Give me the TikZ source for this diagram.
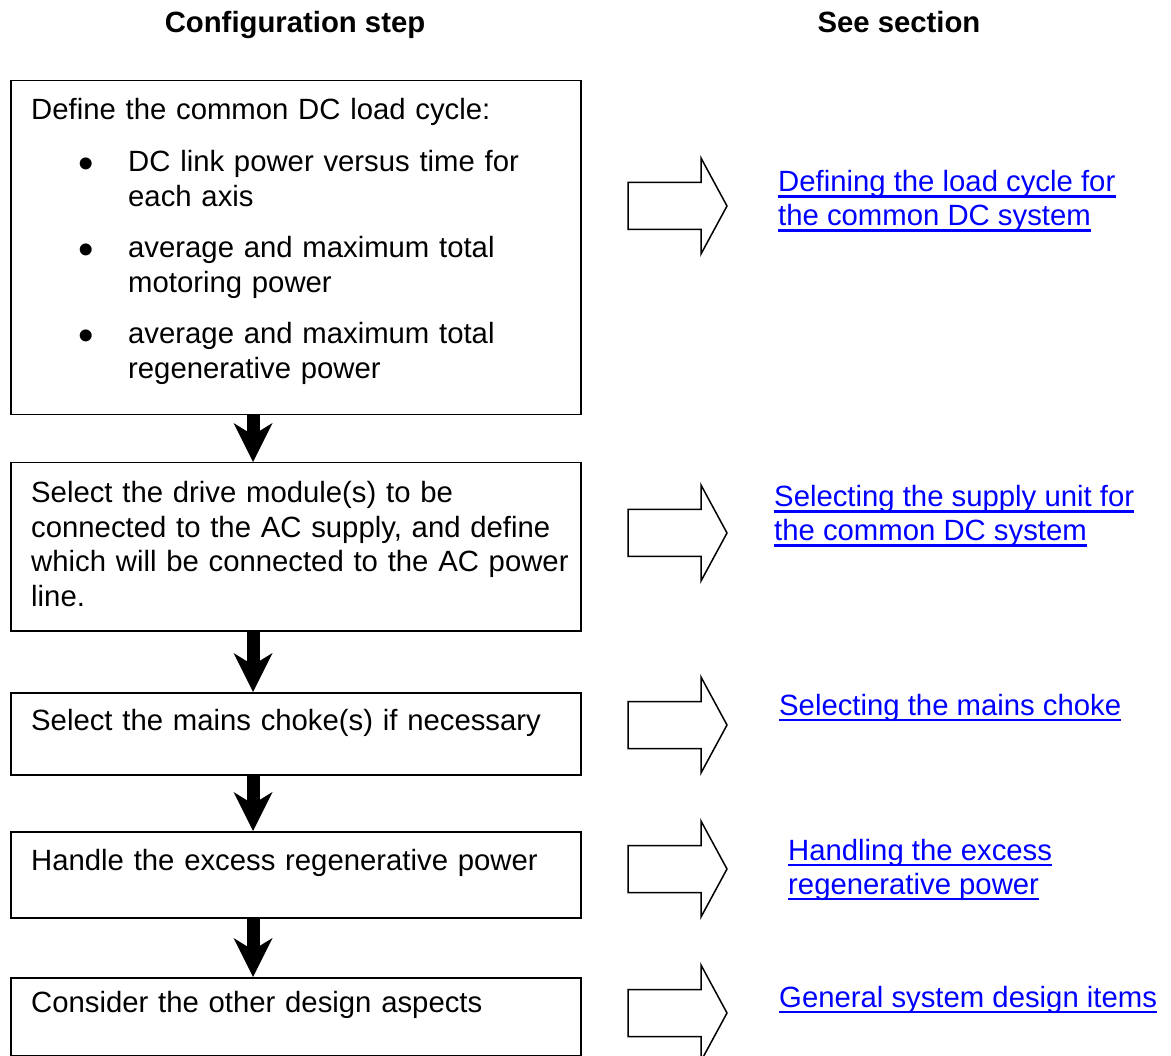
\documentclass[tikz,border=0pt]{standalone}
\usepackage{fontspec}
\setmainfont{Liberation Sans}
\usetikzlibrary{arrows.meta, positioning}
\definecolor{linkblue}{RGB}{0,0,255}

% hollow "see section" arrow, drawn from its left end
\tikzset{
  pics/goto/.style={code={
    \draw[line width=1.5pt, line join=miter]
      (0,-23.5) -- (73,-23.5) -- (73,-48) -- (99,0) -- (73,48) -- (73,23.5) -- (0,23.5) -- cycle;
  }}
}

\begin{document}
\begin{tikzpicture}[
    x=1pt, y=-1pt,
    every node/.style={font=\fontsize{29.3}{34.5}\selectfont},
    heading/.style={anchor=base, inner sep=0pt, font=\fontsize{29.3}{34.5}\selectfont\bfseries},
    stepbox/.style={draw, line width=1.5pt, anchor=north west, inner sep=0pt, minimum width=570pt},
    steptext/.style={anchor=base west, inner sep=0pt, text width=545pt, align=left},
    itemtext/.style={anchor=base west, inner sep=0pt, text width=420pt, align=left},
    bullet/.style={anchor=base, inner sep=0pt, font=\fontsize{44}{44}\selectfont},
    linkline/.style={anchor=base west, inner sep=0pt, text=linkblue},
    underline/.style={draw=linkblue, line width=2.5pt},
    flow/.style={line width=13pt, -{Stealth[length=39pt, width=39pt, inset=12pt, line width=0pt]}}
]
   \useasboundingbox (0,0) rectangle (1171,1056);

   % column headings
   \node[heading] (hstep) at (295,33) {Configuration step};
   \node[heading] (hsee) at (899,33) {See section};

   % configuration steps
   \node[stepbox, minimum height=334pt] (b1) at (10,80) {};
   \node[stepbox, minimum height=168pt] (b2) at (10,462) {};
   \node[stepbox, minimum height=82pt] (b3) at (10,692) {};
   \node[stepbox, minimum height=86pt] (b4) at (10,831) {};
   \node[stepbox, minimum height=78pt] (b5) at (10,977) {};

   \node[steptext] (t1) at (31,120) {Define the common DC load cycle:};
   \foreach \y/\txt [count=\i] in {172/{DC link power versus time for\\each axis},
                                   258/{average and maximum total\\motoring power},
                                   344/{average and maximum total\\regenerative power}} {
      \node[itemtext] (item\i) at (128,\y) {\txt};
      \node[bullet] (dot\i) at (86,\y+7) {\textbullet};
   }
   \node[steptext] (t2) at (31,503) {Select the drive module(s) to be\\connected to the AC supply, and define\\which will be connected to the AC power\\line.};
   \node[steptext] (t3) at (31,730) {Select the mains choke(s) if necessary};
   \node[steptext] (t4) at (31,870) {Handle the excess regenerative power};
   \node[steptext] (t5) at (31,1012) {Consider the other design aspects};

   % flow between the steps
   \coordinate (ax) at (253,0);
   \draw[flow] (b1.south -| ax) -- (b2.north -| ax);
   \draw[flow] (b2.south -| ax) -- (b3.north -| ax);
   \draw[flow] (b3.south -| ax) -- (b4.north -| ax);
   \draw[flow] (b4.south -| ax) -- (b5.north -| ax);

   % pointers to the sections
   \foreach \y [count=\i] in {206,533,725,869,1013}
      \pic (g\i) at (628,\y) {goto};

   % section links, one node per line
   \node[linkline] (l1a) at (778,192) {Defining the load cycle for};
   \node[linkline] (l1b) at (778,226) {the common DC system};
   \node[linkline] (l2a) at (774,507) {Selecting the supply unit for};
   \node[linkline] (l2b) at (774,541) {the common DC system};
   \node[linkline] (l3a) at (779,715) {Selecting the mains choke};
   \node[linkline] (l4a) at (788,860) {Handling the excess};
   \node[linkline] (l4b) at (788,894) {regenerative power};
   \node[linkline] (l5a) at (779,1007) {General system design items};
   \foreach \n in {l1a,l1b,l2a,l2b,l3a,l4a,l4b,l5a}
      \draw[underline] ([yshift=-4.75pt]\n.base west) -- ([yshift=-4.75pt]\n.base east);
\end{tikzpicture}
\end{document}
